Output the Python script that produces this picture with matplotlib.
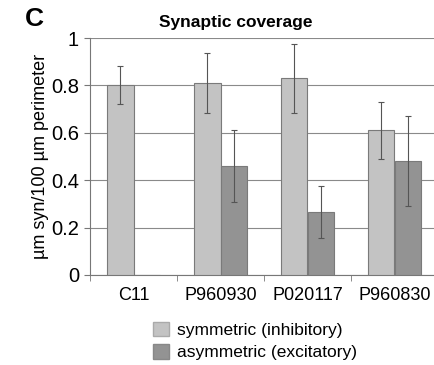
import matplotlib
matplotlib.use("Agg")
import matplotlib.pyplot as plt
import numpy as np
from matplotlib.patches import Rectangle

categories = ["C11", "P960930", "P020117", "P960830"]
sym_vals = [0.80, 0.81, 0.83, 0.61]
sym_err = [0.08, 0.125, 0.145, 0.12]
asym_vals = [0.0, 0.46, 0.265, 0.48]
asym_err = [0.0, 0.15, 0.11, 0.19]
yticks = [0, 0.2, 0.4, 0.6, 0.8, 1]
ytick_labels = ["0", "0.2", "0.4", "0.6", "0.8", "1"]

plt.rcParams['font.family'] = ['Liberation Sans', 'DejaVu Sans']

W, H = 434, 365
fig = plt.figure(figsize=(W/100, H/100), dpi=100)
ax = fig.add_axes([90/W, 1-275/H, 348/W, 237/H])

x = np.arange(len(categories))
bw = 0.3
sym_c = "#c3c3c3"
asym_c = "#939393"
edge = "#7a7a7a"
ax.bar(x - bw/2, sym_vals, bw, color=sym_c, edgecolor=edge, linewidth=0.8, zorder=3)
ax.bar(x + bw/2, asym_vals, bw, color=asym_c, edgecolor=edge, linewidth=0.8, zorder=3)
ax.errorbar(x - bw/2, sym_vals, yerr=sym_err, fmt='none', ecolor="#555555",
            elinewidth=0.8, capsize=2.5, capthick=0.8, zorder=4)
ax.errorbar((x + bw/2)[1:], asym_vals[1:], yerr=asym_err[1:], fmt='none', ecolor="#555555",
            elinewidth=0.8, capsize=2.5, capthick=0.8, zorder=4)

ax.set_xlim(-0.5, 3.5)
ax.set_ylim(0, 1)
ax.set_yticks(yticks)
ax.set_yticklabels(ytick_labels, fontsize=14.5)
ax.yaxis.grid(True, color="#8a8a8a", linewidth=0.8, zorder=0)
ax.set_axisbelow(True)
ax.set_xticks(x)
ax.set_xticklabels(categories, fontsize=13)
ax.set_xticks(np.arange(-0.5, 4, 1), minor=True)
ax.tick_params(axis='x', which='major', length=0, pad=9)
ax.tick_params(axis='x', which='minor', length=4, color="#777777")
ax.tick_params(axis='y', length=4, color="#777777", pad=4)
for s in ['top', 'right']:
    ax.spines[s].set_visible(False)
ax.spines['left'].set_color("#777777")
ax.spines['bottom'].set_color("#777777")
ax.set_ylabel("µm syn/100 µm perimeter", fontsize=13, labelpad=1)

fig.text(236/W, 1-22/H, "Synaptic coverage", fontsize=12.5, fontweight='bold',
         ha='center', va='center')
fig.text(25/W, 1-19/H, "C", fontsize=19, fontweight='bold', ha='left', va='center')

handles = [Rectangle((0, 0), 1, 1, facecolor=sym_c, edgecolor="#aaaaaa"),
           Rectangle((0, 0), 1, 1, facecolor=asym_c, edgecolor="#888888")]
fig.legend(handles, ["symmetric (inhibitory)", "asymmetric (excitatory)"],
           loc='upper left', bbox_to_anchor=(146/W, 1-315/H), frameon=False,
           fontsize=12.5, handlelength=0.9, handleheight=0.9, handletextpad=0.5,
           labelspacing=0.35, borderaxespad=0)

fig.savefig("out.png", dpi=100)
